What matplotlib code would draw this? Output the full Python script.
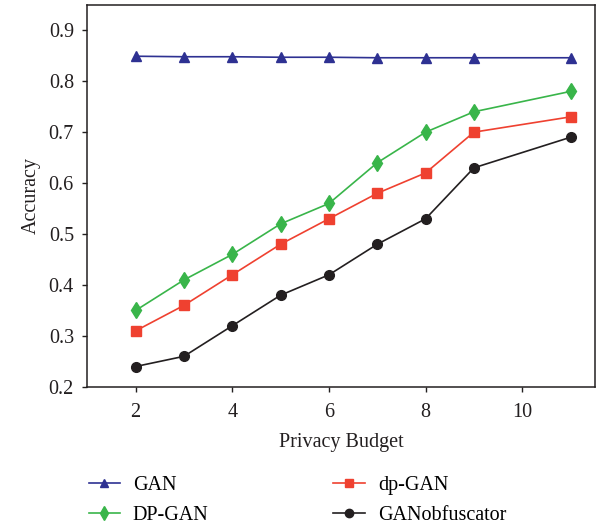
import matplotlib
matplotlib.use("Agg")
import matplotlib.pyplot as plt
from matplotlib.lines import Line2D

plt.rcParams['font.family'] = ['Liberation Serif', 'DejaVu Serif']

budget = [2, 3, 4, 5, 6, 7, 8, 9, 11]
gan = [0.849, 0.848, 0.848, 0.847, 0.847, 0.846, 0.846, 0.846, 0.846]
dp_gan_upper = [0.35, 0.41, 0.46, 0.52, 0.56, 0.64, 0.70, 0.74, 0.78]
dp_gan_lower = [0.31, 0.36, 0.42, 0.48, 0.53, 0.58, 0.62, 0.70, 0.73]
gan_obf = [0.24, 0.26, 0.32, 0.38, 0.42, 0.48, 0.53, 0.63, 0.69]

x_ticks = [2, 4, 6, 8, 10]
y_ticks = [0.2, 0.3, 0.4, 0.5, 0.6, 0.7, 0.8, 0.9]

c_gan = '#2E3192'
c_dpgan = '#39B54A'
c_dp = '#EF4130'
c_obf = '#231F20'

fs = 14.5

fig = plt.figure(figsize=(6.02, 5.30), dpi=100)
ax = fig.add_axes([0.145, 0.270, 0.843, 0.721])

ax.plot(budget, gan, color=c_gan, marker='^', ms=7, lw=1.2)
ax.plot(budget, dp_gan_upper, color=c_dpgan, marker='d', ms=8, lw=1.2)
ax.plot(budget, dp_gan_lower, color=c_dp, marker='s', ms=7, lw=1.2)
ax.plot(budget, gan_obf, color=c_obf, marker='o', ms=7, lw=1.2)

ax.set_xlim(1, 11.5)
ax.set_ylim(0.2, 0.95)
ax.set_xticks(x_ticks)
ax.set_yticks(y_ticks)
ax.set_yticklabels([f'{v:.1f}' for v in y_ticks])
ax.tick_params(direction='out', length=3.6, width=1, labelsize=fs, colors='#231F20')
ax.tick_params(axis='y', pad=6)
ax.tick_params(axis='x', pad=8)
for s in ax.spines.values():
    s.set_linewidth(1.1)
    s.set_color('#231F20')

ax.set_xlabel('Privacy Budget', fontsize=fs, labelpad=8, color='#231F20')
ax.set_ylabel('Accuracy', fontsize=fs, labelpad=6, color='#231F20')

handles = [
    Line2D([], [], color=c_gan, marker='^', ms=6, lw=1.2),
    Line2D([], [], color=c_dpgan, marker='d', ms=7, lw=1.2),
    Line2D([], [], color=c_dp, marker='s', ms=6, lw=1.2),
    Line2D([], [], color=c_obf, marker='o', ms=6, lw=1.2),
]
labels = ['GAN', 'DP-GAN', 'dp-GAN', 'GANobfuscator']
fig.legend(handles, labels, ncol=2, loc='lower left',
           bbox_to_anchor=(0.117, -0.025), frameon=False, fontsize=fs,
           handlelength=1.55, columnspacing=6.2, labelspacing=0.55,
           handletextpad=0.65)

fig.savefig('out.png', dpi=100, facecolor='white')
